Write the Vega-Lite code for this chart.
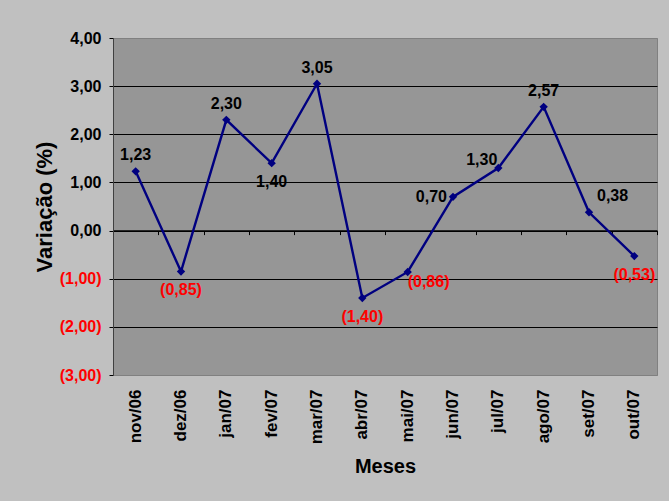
{
  "$schema": "https://vega.github.io/schema/vega-lite/v6.json",
  "width": 544,
  "height": 337,
  "autosize": "none",
  "padding": {"left": 113, "top": 38, "right": 12, "bottom": 126},
  "background": "#c0c0c0",
  "config": {
    "view": {"fill": "#969696", "stroke": "#808080", "strokeWidth": 1},
    "font": "Liberation Sans",
    "locale": {"number": {"decimal": ",", "thousands": ".", "grouping": [3], "currency": ["R$", ""]}}
  },
  "data": {"values": [
    {"m": "nov/06", "v": 1.23},
    {"m": "dez/06", "v": -0.85},
    {"m": "jan/07", "v": 2.30},
    {"m": "fev/07", "v": 1.40},
    {"m": "mar/07", "v": 3.05},
    {"m": "abr/07", "v": -1.40},
    {"m": "mai/07", "v": -0.86},
    {"m": "jun/07", "v": 0.70},
    {"m": "jul/07", "v": 1.30},
    {"m": "ago/07", "v": 2.57},
    {"m": "set/07", "v": 0.38},
    {"m": "out/07", "v": -0.53}
  ]},
  "resolve": {"axis": {"x": "independent"}},
  "layer": [
    {
      "mark": {"type": "line", "color": "#000080", "strokeWidth": 2.4},
      "encoding": {
        "x": {"field": "m", "type": "nominal", "sort": null,
          "axis": {"orient": "bottom", "title": "Meses", "labelAngle": 270, "labelFontSize": 17, "labelFontWeight": "bold", "labelColor": "black", "labelPadding": 14, "ticks": false, "domain": false, "grid": false, "titleFontSize": 20, "titleFontWeight": "bold", "titleColor": "black", "titlePadding": 13}},
        "y": {"field": "v", "type": "quantitative",
          "scale": {"domain": [-3, 4], "nice": false, "zero": false},
          "axis": {"title": "Variação (%)", "values": [-3, -2, -1, 0, 1, 2, 3, 4], "format": "(.2f",
            "labelFontSize": 16, "labelFontWeight": "bold",
            "labelColor": {"condition": {"test": "datum.value < 0", "value": "#ff0000"}, "value": "black"},
            "labelPadding": 8, "tickSize": 4, "tickColor": "black", "domainColor": "#404040",
            "gridColor": {"condition": {"test": "datum.value == 4 || datum.value == -3", "value": "#808080"}, "value": "#000000"},
            "gridOpacity": 1, "gridWidth": 1,
            "titleFontSize": 22, "titleFontWeight": "bold", "titleColor": "black", "titlePadding": 3}}
      }
    },
    {
      "mark": {"type": "point", "opacity": 0},
      "encoding": {
        "x": {"field": "m", "type": "nominal", "sort": null,
          "axis": {"orient": "bottom", "offset": -144.4, "labels": false, "title": null, "domain": true, "domainColor": "black", "domainWidth": 1.5, "ticks": true, "tickBand": "extent", "tickSize": 4, "tickColor": "black", "grid": false}},
        "y": {"datum": 0, "type": "quantitative"}
      }
    },
    {
      "mark": {"type": "point", "shape": "diamond", "filled": true, "size": 70, "color": "#000080", "opacity": 1},
      "encoding": {
        "x": {"field": "m", "type": "nominal", "sort": null, "axis": null},
        "y": {"field": "v", "type": "quantitative"}
      }
    },
    {
      "transform": [{"filter": "indexof(['nov/06','jan/07','mar/07','ago/07'], datum.m) >= 0"}],
      "mark": {"type": "text", "fontSize": 16, "fontWeight": "bold", "dy": -16, "align": "center"},
      "encoding": {
        "x": {"field": "m", "type": "nominal", "sort": null, "axis": null},
        "y": {"field": "v", "type": "quantitative"},
        "text": {"field": "v", "type": "quantitative", "format": "(.2f"},
        "color": {"condition": {"test": "datum.v < 0", "value": "#ff0000"}, "value": "black"}
      }
    },
    {
      "transform": [{"filter": "indexof(['dez/06','fev/07','abr/07','out/07'], datum.m) >= 0"}],
      "mark": {"type": "text", "fontSize": 16, "fontWeight": "bold", "dy": 19, "align": "center"},
      "encoding": {
        "x": {"field": "m", "type": "nominal", "sort": null, "axis": null},
        "y": {"field": "v", "type": "quantitative"},
        "text": {"field": "v", "type": "quantitative", "format": "(.2f"},
        "color": {"condition": {"test": "datum.v < 0", "value": "#ff0000"}, "value": "black"}
      }
    },
    {
      "transform": [{"filter": "datum.m == 'mai/07'"}],
      "mark": {"type": "text", "fontSize": 16, "fontWeight": "bold", "dx": 0, "dy": 10, "align": "left"},
      "encoding": {
        "x": {"field": "m", "type": "nominal", "sort": null, "axis": null},
        "y": {"field": "v", "type": "quantitative"},
        "text": {"field": "v", "type": "quantitative", "format": "(.2f"},
        "color": {"condition": {"test": "datum.v < 0", "value": "#ff0000"}, "value": "black"}
      }
    },
    {
      "transform": [{"filter": "datum.m == 'jun/07'"}],
      "mark": {"type": "text", "fontSize": 16, "fontWeight": "bold", "dx": -6, "dy": 0, "align": "right"},
      "encoding": {
        "x": {"field": "m", "type": "nominal", "sort": null, "axis": null},
        "y": {"field": "v", "type": "quantitative"},
        "text": {"field": "v", "type": "quantitative", "format": "(.2f"},
        "color": {"condition": {"test": "datum.v < 0", "value": "#ff0000"}, "value": "black"}
      }
    },
    {
      "transform": [{"filter": "datum.m == 'jul/07'"}],
      "mark": {"type": "text", "fontSize": 16, "fontWeight": "bold", "dx": -1, "dy": -8, "align": "right"},
      "encoding": {
        "x": {"field": "m", "type": "nominal", "sort": null, "axis": null},
        "y": {"field": "v", "type": "quantitative"},
        "text": {"field": "v", "type": "quantitative", "format": "(.2f"},
        "color": {"condition": {"test": "datum.v < 0", "value": "#ff0000"}, "value": "black"}
      }
    },
    {
      "transform": [{"filter": "datum.m == 'set/07'"}],
      "mark": {"type": "text", "fontSize": 16, "fontWeight": "bold", "dx": 8, "dy": -16, "align": "left"},
      "encoding": {
        "x": {"field": "m", "type": "nominal", "sort": null, "axis": null},
        "y": {"field": "v", "type": "quantitative"},
        "text": {"field": "v", "type": "quantitative", "format": "(.2f"},
        "color": {"condition": {"test": "datum.v < 0", "value": "#ff0000"}, "value": "black"}
      }
    }
  ]
}
